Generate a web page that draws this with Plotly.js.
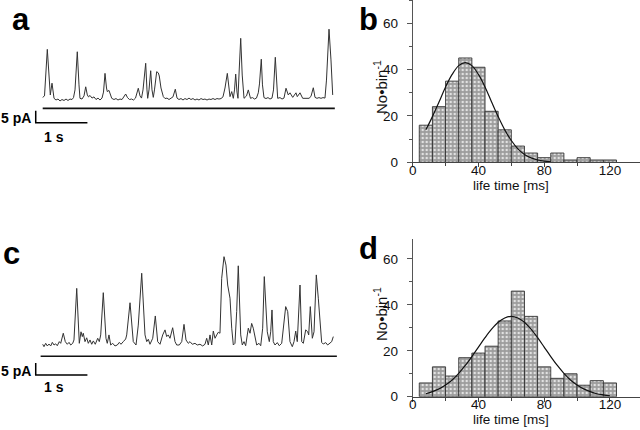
<!DOCTYPE html>
<html><head><meta charset="utf-8">
<script src="https://cdn.plot.ly/plotly-3.0.1.min.js"></script>
<style>html,body{margin:0;padding:0;background:#fff}#chart{width:640px;height:430px}</style>
</head><body><div id="chart"></div>
<script>
// ---- panel a: current trace (time s, current pA) ----
const aT = [0,0.035,0.089,0.132,0.147,0.180,0.219,0.257,0.296,0.335,0.373,0.412,0.451,0.489,0.528,0.567,0.596,0.625,0.669,0.702,0.721,0.760,0.799,0.832,0.863,0.886,0.915,0.954,0.992,1.031,1.070,1.108,1.147,1.176,1.205,1.234,1.249,1.282,1.311,1.335,1.379,1.418,1.456,1.495,1.534,1.572,1.605,1.640,1.679,1.718,1.756,1.795,1.824,1.849,1.882,1.911,1.940,1.992,2.017,2.031,2.056,2.089,2.114,2.139,2.162,2.205,2.236,2.255,2.288,2.333,2.366,2.404,2.443,2.482,2.520,2.565,2.598,2.636,2.675,2.714,2.752,2.791,2.830,2.868,2.907,2.946,2.984,3.023,3.062,3.101,3.139,3.178,3.217,3.255,3.294,3.333,3.371,3.410,3.449,3.487,3.526,3.571,3.603,3.623,3.656,3.687,3.710,3.733,3.758,3.777,3.801,3.830,3.859,3.894,3.942,3.977,4.019,4.058,4.097,4.135,4.170,4.193,4.228,4.251,4.280,4.319,4.358,4.396,4.435,4.464,4.499,4.522,4.545,4.590,4.629,4.667,4.706,4.750,4.783,4.836,4.899,4.924,4.977,5.029,5.073,5.112,5.151,5.189,5.234,5.267,5.305,5.344,5.383,5.421,5.460,5.489,5.538,5.576,5.609];
const aI = [1.1,1.7,21.1,6.3,2.1,7.0,0.7,0,0.4,-0.4,0.2,-0.2,0.4,-0.2,0.4,0.2,1.0,4.2,20.1,6.3,0.7,0.4,1.7,5.5,2.1,1.3,1.9,0.8,1.3,0.2,0.8,0,0.8,3.3,11.1,5.0,3.5,4.0,1.7,0.7,0.2,0.6,0,0.4,0.2,1.5,2.5,1.0,0.2,0.4,0,0.8,2.9,4.9,1.7,0.8,4.2,15.3,4.2,0.7,4.2,12.2,4.2,1.1,4.2,11.8,11.3,10.0,5.0,1.4,0.6,0.8,0.2,0.6,1.3,4.5,0.8,0.2,0.6,0,0.6,0.2,0.8,0.2,0.6,0,0.4,0,0.6,0.2,0.4,0,0.4,0.2,0.6,0.2,0.6,0.4,0.6,1.3,5.0,11.1,4.2,1.4,3.5,0.7,4.2,10.8,3.3,0.7,12.5,25.7,10.4,0.7,1.7,4.2,0.7,1.0,0.4,0.8,3.0,6.7,17.0,6.3,1.0,0.6,1.0,0.4,0.8,4.2,17.8,6.3,0.7,1.0,0.4,0.8,4.9,2.1,3.0,1.1,3.0,1.4,3.0,0.7,0.7,1.0,0.7,1.5,5.1,1.1,0.7,1.0,0.7,1.0,0.8,8.3,29.5,16.7,2.1];
const aRefT = [0, 5.65];
const aRefI = -3.5;

// ---- panel c: current trace ----
const cT = [0,0.025,0.058,0.089,0.122,0.155,0.186,0.219,0.251,0.282,0.321,0.348,0.398,0.437,0.476,0.509,0.542,0.580,0.605,0.658,0.708,0.741,0.766,0.785,0.818,0.851,0.882,0.915,0.948,0.979,1.017,1.064,1.095,1.122,1.172,1.224,1.249,1.282,1.315,1.354,1.398,1.443,1.482,1.514,1.559,1.605,1.625,1.689,1.752,1.805,1.849,1.915,1.979,2.012,2.043,2.075,2.128,2.178,2.224,2.269,2.321,2.366,2.398,2.429,2.462,2.514,2.559,2.592,2.642,2.689,2.733,2.772,2.816,2.849,2.894,2.946,2.990,3.042,3.095,3.139,3.172,3.203,3.236,3.269,3.300,3.333,3.366,3.396,3.429,3.462,3.507,3.545,3.578,3.623,3.656,3.687,3.719,3.752,3.783,3.830,3.861,3.894,3.926,3.977,4.010,4.042,4.073,4.106,4.139,4.184,4.217,4.255,4.286,4.344,4.383,4.410,4.435,4.460,4.493,4.538,4.576,4.623,4.654,4.700,4.739,4.783,4.828,4.861,4.894,4.924,4.977,5.010,5.041,5.087,5.126,5.145,5.176,5.215,5.248,5.292,5.331,5.364,5.396,5.427,5.474,5.512,5.557,5.590,5.621];
const cI = [0.3,-0.7,0.7,-0.4,0.4,-0.4,1.1,0,0.5,-0.3,1.4,0.7,4.9,1.4,0.3,1.1,0,0.7,2.1,23.6,0.7,5.5,3.5,4.9,1.4,3.0,0.7,2.1,0.3,1.7,0.3,2.8,1.4,4.2,21.8,2.8,0.7,4.2,0,0.7,-0.4,0,1.1,0.3,1.4,2.5,4.2,17.6,1.4,0,8.3,29.9,4.2,1.4,2.4,0.3,2.8,12.1,1.4,0.3,4.2,6.3,3.5,4.2,2.8,7.2,1.4,0,0,1.4,8.6,2.1,0.7,1.4,0.3,0.7,0,0.3,-0.4,0.3,2.8,0,4.2,0,5.8,2.8,4.2,5.3,4.9,27.8,36.8,33.3,25.0,19.5,7.0,0,0.7,13.9,33.0,4.2,0,1.4,-0.3,7.0,4.9,9.0,7.0,2.8,0,0.7,-0.3,7.0,28.5,5.5,1.4,5.5,14.6,1.4,0,1.0,-0.3,0.7,7.0,16.0,13.9,1.4,-0.7,1.4,5.8,1.4,25.0,1.4,0.7,6.3,5.5,4.2,16.0,2.8,5.5,29.2,19.5,8.3,1.1,0.4,1.0,0,0.7,1.4,3.5];
const cRefT = [-0.04, 5.69];
const cRefI = -4.7;

// scale bars
const barTime = 1;     // s
const barCurrent = 5;  // pA

// ---- histograms (life time, ms) ----
const binCenters = [8,16,24,32,40,48,56,64,72,80,88,96,104,112,120];
const countsB = [16,24,35,45,41,22,14,7,4,2,4,1,2,1,1];
const countsD = [6,13,9,17,19,22,33,46,35,13,8,10,5,7,6];
const fitBx = [8,12,16,20,24,28,32,36,40,44,48,52,56,60,64,68,72,76,80,84];
const fitBy = [14,19.7,26,32.5,37.9,41.7,43,41.7,37.9,32.5,26,19.7,14,9.4,5.8,3.4,1.9,1.0,0.5,0.2];
const fitDx = [8,12,16,20,24,28,32,36,40,44,48,52,56,60,64,68,72,76,80,84,88,92,96,100,104,108,112,116,120];
const fitDy = [1.3,2.2,3.4,5.1,7.3,10.2,13.6,17.5,21.6,25.7,29.4,32.4,34.3,35,34.3,32.4,29.4,25.7,21.6,17.5,13.6,10.2,7.3,5.1,3.4,2.2,1.3,0.8,0.4];
const xTicks = [0,40,80,120];

// ---- helpers (layout geometry) ----
const W = 640, H = 430;
const px = v => v / W, py = v => 1 - v / H;
const FONT = 'Arial, "Liberation Sans", Helvetica, sans-serif';
const traceColor = '#333';

const sbA = {t: -0.135, i: -9.5};
const sbC = {t: -0.135, i: -12.5};

function scaleBar(xa, ya, sb) {
  return {type:'scatter', mode:'lines', xaxis:xa, yaxis:ya, hoverinfo:'skip', showlegend:false,
    x:[sb.t, sb.t, sb.t + barTime], y:[sb.i + barCurrent, sb.i, sb.i],
    line:{color:'#000', width:1.5}};
}
function refLine(xa, ya, tt, ii) {
  return {type:'scatter', mode:'lines', xaxis:xa, yaxis:ya, hoverinfo:'skip', showlegend:false,
    x:tt, y:[ii, ii], line:{color:'#111', width:1.6}};
}
function bars(xa, ya, y) {
  return {type:'bar', xaxis:xa, yaxis:ya, x:binCenters, y:y, width:8, showlegend:false,
    marker:{color:'#a0a0a0', line:{color:'#333', width:0.9},
      pattern:{shape:'.', bgcolor:'#9d9d9d', fgcolor:'#e2e2e2', size:4, solidity:0.3, fillmode:'replace'}}};
}
function fit(xa, ya, x, y) {
  return {type:'scatter', mode:'lines', xaxis:xa, yaxis:ya, x:x, y:y, showlegend:false,
    line:{color:'#111', width:1.2, shape:'spline'}};
}

const data = [
  {type:'scatter', mode:'lines', x:aT, y:aI, xaxis:'x', yaxis:'y', showlegend:false, line:{color:traceColor, width:1}},
  refLine('x','y', aRefT, aRefI),
  scaleBar('x','y', sbA),
  bars('x2','y2', countsB),
  fit('x2','y2', fitBx, fitBy),
  {type:'scatter', mode:'lines', x:cT, y:cI, xaxis:'x3', yaxis:'y3', showlegend:false, line:{color:traceColor, width:1}},
  refLine('x3','y3', cRefT, cRefI),
  scaleBar('x3','y3', sbC),
  bars('x4','y4', countsD),
  fit('x4','y4', fitDx, fitDy)
];

const hidden = {visible:false, showgrid:false, zeroline:false, fixedrange:true};
const tScale = 51.7; // px per s
const tRange = [(0 - 42.7) / tScale, (352 - 42.7) / tScale];

function histX(anchor) {
  return {domain:[px(412.7), 1], range:[0, 138.3], anchor:anchor, showline:true, linecolor:'#444', linewidth:1,
    ticks:'outside', ticklen:4, tickwidth:1, tickcolor:'#444', tickvals:xTicks,
    minor:{dtick:20, ticks:'outside', ticklen:3, tickcolor:'#444'},
    showgrid:false, zeroline:false, tickfont:{family:FONT, size:13.5, color:'#111'}, ticklabelstandoff:-9};
}
function histY(anchor, dom, top) {
  return {domain:dom, range:[0, top], anchor:anchor, showline:true, linecolor:'#555', linewidth:1,
    ticks:'outside', ticklen:5, tickwidth:1, tickcolor:'#555', dtick:20, tick0:0,
    minor:{dtick:10, ticks:'outside', ticklen:3, tickcolor:'#555'},
    showgrid:false, zeroline:false, tickfont:{family:FONT, size:13.5, color:'#111'}, ticklabelstandoff:6};
}

const letter = (t, x, y) => ({text:t, xref:'paper', yref:'paper', x:px(x), y:py(y), showarrow:false,
  xanchor:'center', yanchor:'top', font:{family:FONT, size:31, weight:'bold', color:'#000'}});
const small = {family:FONT, size:13.5, color:'#111'};
const boldSmall = {family:FONT, size:14, weight:'bold', color:'#000'};

const layout = {
  width:W, height:H, margin:{l:0, r:0, t:0, b:0}, paper_bgcolor:'#fff', plot_bgcolor:'rgba(0,0,0,0)',
  showlegend:false, bargap:0,
  xaxis: Object.assign({domain:[0, px(352)], range:tRange, anchor:'y'}, hidden),
  yaxis: Object.assign({domain:[py(150), 1], range:[(100 - 150) / 2.4, 100 / 2.4], anchor:'x'}, hidden),
  xaxis3: Object.assign({domain:[0, px(352)], range:tRange, anchor:'y3'}, hidden),
  yaxis3: Object.assign({domain:[0, py(225)], range:[(345 - 430) / 2.4, (345 - 225) / 2.4], anchor:'x3'}, hidden),
  xaxis2: histX('y2'),
  yaxis2: histY('x2', [py(162.3), 1], 70),
  xaxis4: histX('y4'),
  yaxis4: histY('x4', [py(396.7), py(239)], 68.7),
  annotations: [
    letter('a', 21, 0), letter('b', 368, 0), letter('c', 11, 234), letter('d', 368, 229),
    {text:'5 pA', xref:'x', yref:'y', x:sbA.t - 0.05, y:sbA.i + 2, xanchor:'right', yanchor:'middle', showarrow:false, font:boldSmall},
    {text:'1 s', xref:'x', yref:'y', x:sbA.t + 0.35, y:sbA.i - 5.9, xanchor:'center', yanchor:'middle', showarrow:false, font:boldSmall},
    {text:'5 pA', xref:'x3', yref:'y3', x:sbC.t - 0.05, y:sbC.i + 1.7, xanchor:'right', yanchor:'middle', showarrow:false, font:boldSmall},
    {text:'1 s', xref:'x3', yref:'y3', x:sbC.t + 0.35, y:sbC.i - 5, xanchor:'center', yanchor:'middle', showarrow:false, font:boldSmall},
    {text:'life time [ms]', xref:'x2', yref:'paper', x:60, y:py(186), xanchor:'center', yanchor:'middle', showarrow:false, font:small},
    {text:'life time [ms]', xref:'x4', yref:'paper', x:60, y:py(419), xanchor:'center', yanchor:'middle', showarrow:false, font:small},
    {text:'No•bin<sup>-1</sup>', xref:'paper', yref:'paper', x:px(380), y:py(87), textangle:-90, xanchor:'center', yanchor:'middle', showarrow:false, font:Object.assign({}, small, {size:15})},
    {text:'No•bin<sup>-1</sup>', xref:'paper', yref:'paper', x:px(380), y:py(314), textangle:-90, xanchor:'center', yanchor:'middle', showarrow:false, font:Object.assign({}, small, {size:15})}
  ]
};

Plotly.newPlot('chart', data, layout, {displayModeBar:false, staticPlot:true});
</script></body></html>
